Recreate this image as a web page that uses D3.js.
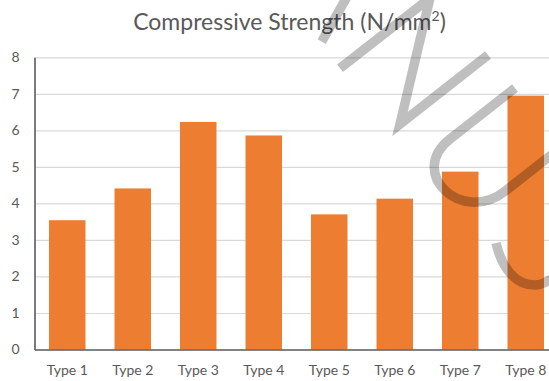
<!DOCTYPE html>
<html>
<head>
<meta charset="utf-8">
<script src="https://cdn.jsdelivr.net/npm/d3@7"></script>
<style>
  html, body { margin: 0; padding: 0; background: #fff; }
  svg { display: block; }
  text { font-family: Lato, "Open Sans", sans-serif; fill: #595959; }
</style>
</head>
<body>
<script>
// Compressive strength by mix type (N/mm²)
const categories = ["Type 1", "Type 2", "Type 3", "Type 4", "Type 5", "Type 6", "Type 7", "Type 8"];
const strengthValues = [3.54, 4.41, 6.23, 5.86, 3.70, 4.13, 4.87, 6.95];
const yTicks = [0, 1, 2, 3, 4, 5, 6, 7, 8];

const W = 549, H = 381;
const plot = { left: 34.5, right: 558.5, top: 57.3, bottom: 349.5 };

const svg = d3.select("body").append("svg")
  .attr("width", W).attr("height", H);

svg.append("rect").attr("width", W).attr("height", H).attr("fill", "#fff");

const x = d3.scaleBand()
  .domain(categories)
  .range([plot.left, plot.right])
  .paddingInner(0.443)
  .paddingOuter(0.2215);

const y = d3.scaleLinear()
  .domain([0, 8])
  .range([plot.bottom, plot.top]);

// horizontal gridlines
const grid = svg.append("g")
  .attr("transform", `translate(${plot.left},0)`)
  .call(d3.axisLeft(y).tickValues(yTicks.filter(d => d > 0)).tickSize(-(plot.right - plot.left)).tickFormat(""));
grid.select(".domain").remove();
grid.selectAll(".tick line").attr("stroke", "#d9d9d9").attr("stroke-width", 1.2);

// bars
svg.append("g").selectAll("rect")
  .data(categories.map((c, i) => ({ c, v: strengthValues[i] })))
  .join("rect")
  .attr("x", d => x(d.c))
  .attr("width", x.bandwidth())
  .attr("y", d => y(d.v))
  .attr("height", d => y(0) - y(d.v))
  .attr("fill", "#ED7D31");

// value axis
const yAxis = svg.append("g")
  .attr("transform", `translate(${plot.left},0)`)
  .call(d3.axisLeft(y).tickValues(yTicks).tickSize(0).tickPadding(15).tickFormat(d3.format("d")));
yAxis.select(".domain").attr("stroke", "#7a7a7a").attr("stroke-width", 2);
yAxis.selectAll("text").style("font-size", "14px").style("font-family", "Lato").attr("fill", "#595959");

// category axis
const xAxis = svg.append("g")
  .attr("transform", `translate(0,${plot.bottom})`)
  .call(d3.axisBottom(x).tickSize(0).tickPadding(15.5));
xAxis.select(".domain").attr("stroke", "#595959").attr("stroke-width", 1.5);
xAxis.selectAll("text").style("font-size", "14px").style("font-family", "Lato").attr("fill", "#595959");

// title with superscript unit
const title = svg.append("text")
  .attr("x", 289.5).attr("y", 30)
  .attr("text-anchor", "middle")
  .style("font-size", "23px");
title.append("tspan").text("Compressive Strength (N/mm");
title.append("tspan").attr("dy", -9).style("font-size", "14px").text("2");
title.append("tspan").attr("dy", 9).text(")");

// translucent hand-drawn overlay strokes
const overlayPaths = [
  "M321.7,41.7 L348,-5",
  "M340,68.3 L430,-2 L400,124 L488,55",
  "M515,88 L450,139 C406.7,172.9 461.7,225.1 505,191.2 L565,144.2",
  "M496,243 C502,268 515,285 535,285 C542,285 549,281 556,276"
];
svg.append("g")
  .selectAll("path")
  .data(overlayPaths)
  .join("path")
  .attr("d", d => d)
  .attr("fill", "none")
  .attr("stroke", "#000")
  .attr("stroke-opacity", 0.25)
  .attr("stroke-width", 9.5)
  .attr("stroke-linecap", "butt")
  .attr("stroke-linejoin", "miter");
</script>
</body>
</html>
